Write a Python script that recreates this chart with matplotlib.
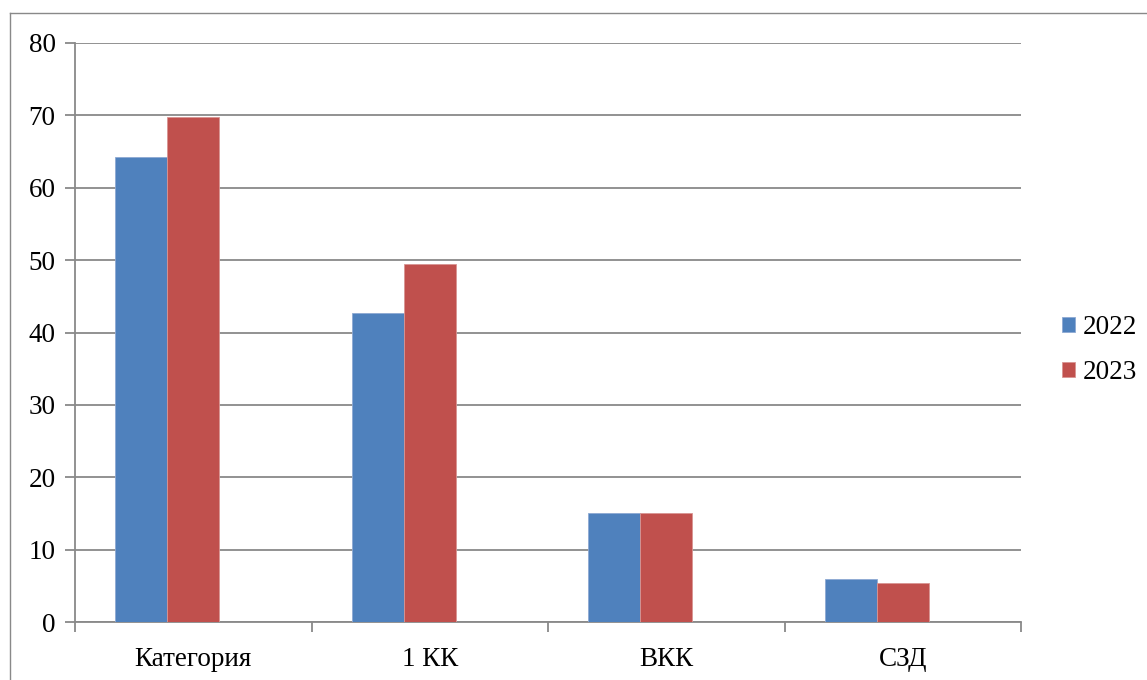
import matplotlib
matplotlib.use("Agg")
import matplotlib.pyplot as plt
import numpy as np
from matplotlib.lines import Line2D

categories = ["Категория", "1 КК", "ВКК", "СЗД"]
series_names = ["2022", "2023"]
values_2022 = [64.3, 42.7, 15.0, 5.9]
values_2023 = [69.8, 49.4, 15.1, 5.4]
y_ticks = [0, 10, 20, 30, 40, 50, 60, 70, 80]

blue = "#4F81BD"
red = "#C0504D"
grid_c = "#898989"

plt.rcParams['font.family'] = ['Liberation Serif', 'DejaVu Serif']
fs = 19.5

fig = plt.figure(figsize=(11.47, 6.8), dpi=100)
ax = fig.add_axes([75/1147, 1-622/680, (1021-75)/1147, (622-43)/680])

x = np.arange(len(categories))
w = 0.22
ax.bar(x - 0.33, values_2022, width=w, align='edge', color=blue, label=series_names[0],
       edgecolor="#8EA9D3", linewidth=0.6, zorder=3)
ax.bar(x - 0.11, values_2023, width=w, align='edge', color=red, label=series_names[1],
       edgecolor="#D99593", linewidth=0.6, zorder=3)

ax.set_xlim(-0.5, len(categories) - 0.5)
ax.set_ylim(0, 80)
ax.set_yticks(y_ticks)
ax.set_yticklabels([str(t) for t in y_ticks], fontsize=fs)
ax.yaxis.grid(True, color=grid_c, linewidth=1.3, zorder=0)
ax.set_axisbelow(True)

ax.set_xticks(np.arange(-0.5, len(categories), 1.0))
ax.set_xticklabels([])
ax.set_xticks(x, minor=True)
ax.set_xticklabels(categories, minor=True, fontsize=fs)
ax.tick_params(axis='x', which='minor', length=0, pad=18)
ax.tick_params(axis='x', which='major', length=7, width=1.3, color=grid_c, direction='out')
ax.tick_params(axis='y', length=7, width=1.3, color=grid_c, direction='out', pad=7)

for s in ['top', 'right']:
    ax.spines[s].set_visible(False)
for s in ['left', 'bottom']:
    ax.spines[s].set_color(grid_c)
    ax.spines[s].set_linewidth(1.3)

# outer chart border
fig.add_artist(Line2D([10/1147, 10/1147], [0, 1-13/680], transform=fig.transFigure,
                      color=grid_c, linewidth=1.0))
fig.add_artist(Line2D([10/1147, 1.0], [1-13/680, 1-13/680], transform=fig.transFigure,
                      color=grid_c, linewidth=1.0))

ax.legend(loc='center left', bbox_to_anchor=(1062/1147, 1-350/680), bbox_transform=fig.transFigure,
          frameon=False, fontsize=fs, handlelength=0.48, handleheight=0.48,
          handletextpad=0.3, labelspacing=0.72, borderaxespad=0, borderpad=0)

fig.savefig("out.png", dpi=100, facecolor="white")
